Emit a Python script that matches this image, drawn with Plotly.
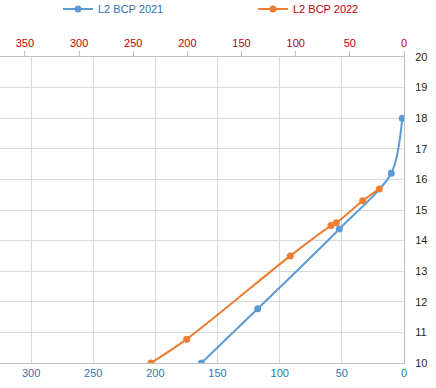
import plotly.graph_objects as go

depth_2021 = [163, 117.7, 52, 10.2, 1.4]
level_2021 = [10.0, 11.77, 14.38, 16.2, 18.0]

depth_2022 = [233.6, 200.6, 105, 67.4, 62.5, 38.1, 22.8]
level_2022 = [10.0, 10.78, 13.5, 14.49, 14.58, 15.3, 15.69]

bottom_ticks = [0, 50, 100, 150, 200, 250, 300]
top_ticks = [0, 50, 100, 150, 200, 250, 300, 350]
y_ticks = list(range(10, 21))

BLUE = "#5B9BD5"
ORANGE = "#ED7D31"
BLUE_TXT = "#2E75B6"
RED_TXT = "#C00000"
GRID = "#D9D9D9"
AXIS = "#BFBFBF"
FONT = "Liberation Sans"

fig = go.Figure()
fig.add_trace(go.Scatter(
    x=depth_2021, y=level_2021, mode="lines+markers",
    name=f"<span style='color:{BLUE_TXT}'>L2 BCP 2021</span>",
    line=dict(color=BLUE, width=2, shape="spline", smoothing=0.8),
    marker=dict(color=BLUE, size=7), xaxis="x", yaxis="y"))
fig.add_trace(go.Scatter(
    x=depth_2022, y=level_2022, mode="lines+markers",
    name=f"<span style='color:{RED_TXT}'>L2 BCP 2022</span>",
    line=dict(color=ORANGE, width=2, shape="spline", smoothing=0.8),
    marker=dict(color=ORANGE, size=7), xaxis="x2", yaxis="y"))

fig.update_layout(
    width=436, height=388,
    margin=dict(l=0, r=32, t=57, b=25),
    paper_bgcolor="white", plot_bgcolor="white",
    font=dict(family=FONT, size=11, color="#404040"),
    showlegend=True,
    legend=dict(orientation="h", xref="container", yref="container",
                x=58/436, y=1-9/388, xanchor="left", yanchor="middle",
                entrywidth=150, entrywidthmode="pixels",
                font=dict(size=11), bgcolor="rgba(0,0,0,0)"),
    xaxis=dict(range=[325, 0], tickvals=bottom_ticks, showgrid=True,
               gridcolor=GRID, gridwidth=1, zeroline=False,
               showline=True, linecolor=AXIS, linewidth=1, ticks="",
               tickfont=dict(color=BLUE_TXT, size=11), side="bottom"),
    xaxis2=dict(range=[373, 0], tickvals=top_ticks, overlaying="x",
                side="top", anchor="y", showgrid=False, zeroline=False,
                showline=True, linecolor=AXIS, linewidth=1,
                ticks="outside", ticklen=5, tickcolor=AXIS,
                tickfont=dict(color=RED_TXT, size=11)),
    yaxis=dict(range=[10, 20], tickvals=y_ticks, side="right",
               showgrid=True, gridcolor=GRID, zeroline=False,
               showline=True, linecolor=AXIS, linewidth=1, ticks="",
               ticklabelstandoff=8,
               tickfont=dict(color="#262626", size=11)),
)

fig.write_html("out.html", config={"displayModeBar": False},
               post_script="document.body.style.margin='0';document.body.style.overflow='hidden';")
